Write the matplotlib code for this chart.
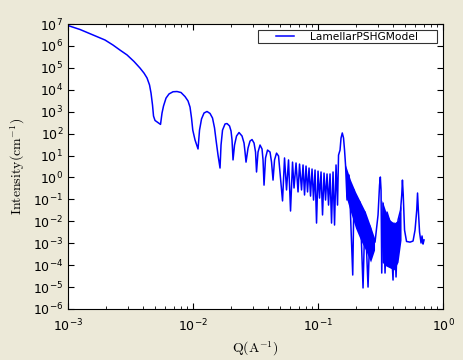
import numpy as np
import matplotlib
matplotlib.use("Agg")
import matplotlib.pyplot as plt
from matplotlib.ticker import LogLocator, NullLocator
from matplotlib.legend_handler import HandlerLine2D

# Kurva LamellarPSHGModel (nilai log10)
log_q = [
    -3.0, -2.904, -2.80, -2.704, -2.64, -2.584, -2.528, -2.472, -2.424, -2.392,
    -2.368, -2.348, -2.336, -2.324, -2.316, -2.304, -2.26,
    -2.248, -2.236, -2.216, -2.192, -2.16, -2.128, -2.096, -2.064, -2.04, -2.024,
    -2.012, -2.002, -1.984, -1.96,
    -1.948, -1.932, -1.912, -1.888, -1.864, -1.844, -1.828, -1.816, -1.80, -1.784,
    -1.776, -1.764, -1.744, -1.728, -1.708, -1.696, -1.688, -1.68,
    -1.668, -1.652, -1.632, -1.608, -1.592, -1.584, -1.576,
    -1.56, -1.544, -1.528, -1.512, -1.50, -1.492,
    -1.48, -1.464, -1.448, -1.44, -1.432,
    -1.42, -1.404, -1.384, -1.372, -1.36,
    -1.348, -1.332, -1.316,
    -1.284, -1.268, -1.252, -1.236, -1.22, -1.204, -1.192, -1.176, -1.16, -1.148,
    -1.132, -1.12, -1.108, -1.096, -1.084, -1.072, -1.06, -1.048, -1.036, -1.024,
    -1.012, -1.0, -0.988, -0.976, -0.964, -0.952, -0.94, -0.928, -0.916, -0.904,
    -0.892, -0.88, -0.868, -0.856, -0.844, -0.836,
    -0.824, -0.816, -0.806, -0.796, -0.788, -0.78,
    -0.768, -0.752, -0.7224, -0.712, -0.68, -0.664, -0.64, -0.624, -0.60, -0.584,
    -0.56, -0.544, -0.52, -0.508, -0.5016, -0.496, -0.4904,
    -0.48, -0.464, -0.448, -0.424, -0.40, -0.392, -0.376, -0.36, -0.34,
    -0.3304, -0.3248, -0.3184, -0.308, -0.292, -0.264, -0.24,
    -0.224, -0.2104, -0.204, -0.1976, -0.188, -0.176, -0.168, -0.16, -0.152,
]
log_i = [
    6.93, 6.75, 6.50, 6.27, 6.04, 5.81, 5.59, 5.29, 4.99, 4.76,
    4.54, 4.22, 3.85, 3.30, 2.80, 2.60, 2.42,
    2.94, 3.26, 3.62, 3.81, 3.91, 3.92, 3.875, 3.69, 3.49, 3.21,
    2.71, 2.16, 1.71, 1.30,
    2.16, 2.67, 2.94, 3.01, 2.92, 2.71, 2.26, 1.71, 1.02, 0.43,
    1.48, 2.16, 2.44, 2.46, 2.35, 2.12, 1.71, 0.80,
    1.48, 1.89, 2.05, 1.89, 1.57, 1.16, 0.70,
    1.34, 1.66, 1.73, 1.57, 1.16, 0.25,
    1.16, 1.48, 1.30, 0.80, -0.35,
    0.89, 1.25, 1.16, 0.70, -0.12,
    0.80, 1.11, 0.98,
    -1.07, 0.89, -0.57, 0.80, -1.53, 0.70, -0.48, 0.66, -0.66, 0.61,
    -0.57, 0.57, -0.80, 0.52, -0.66, 0.43, -0.85, 0.385, -1.03, 0.34,
    -2.08, 0.29, -0.94, 0.25, -1.71, 0.20, -1.03, 0.16, -1.26, 0.16,
    -2.08, 0.25, -2.17, 0.57, -1.26, 1.02,
    1.25, 1.80, 2.03, 1.80, 1.25, 0.57,
    -1.03, 0.11, -4.45, -0.57, -2.40, -1.12, -5.04, -1.58, -5.0, -2.22,
    -2.85, -2.95, -1.71, -0.35, 0.02, -0.57, -4.36,
    -1.17, -4.36, -1.58, -2.03, -4.68, -2.08, -4.54, -1.94, -1.49,
    -0.80, -0.12, -0.80, -2.40, -2.92, -2.95, -2.90,
    -2.40, -1.49, -0.71, -1.49, -2.49, -2.99, -2.67, -3.04, -2.85,
]

# Pita osilasi rapat (tampak padat), batas atas dan bawah
band1_log_q = [-0.78, -0.74, -0.70, -0.66, -0.62, -0.58, -0.548]
band1_hi = [0.57, -0.12, -0.66, -1.12, -1.58, -2.22, -2.76]
band1_lo = [-0.80, -1.58, -2.31, -2.85, -3.31, -3.86, -3.31]

band2_log_q = [-0.488, -0.456, -0.424, -0.392, -0.36, -0.336]
band2_hi = [-1.03, -1.58, -1.94, -2.08, -1.94, -1.26]
band2_lo = [-3.86, -4.04, -4.13, -4.22, -3.86, -2.85]

LINE_COLOR = "#0000ff"
BG_COLOR = "#ece9d8"

q = 10 ** np.array(log_q)
inten = 10 ** np.array(log_i)

fig = plt.figure(figsize=(4.63, 3.6), dpi=100, facecolor=BG_COLOR)
ax = fig.add_axes([0.1469, 0.1417, 0.81, 0.7916])
ax.set_facecolor("white")

for bq, blo, bhi in ((band1_log_q, band1_lo, band1_hi), (band2_log_q, band2_lo, band2_hi)):
    ax.fill_between(10 ** np.array(bq), 10 ** np.array(blo), 10 ** np.array(bhi),
                    color=LINE_COLOR, linewidth=0)

line, = ax.plot(q, inten, color=LINE_COLOR, linewidth=1.1, label="LamellarPSHGModel     ")

ax.set_xscale("log")
ax.set_yscale("log")
ax.set_xlim(1e-3, 1.0)
ax.set_ylim(1e-6, 1e7)

ax.yaxis.set_major_locator(LogLocator(base=10, numticks=20))
ax.yaxis.set_minor_locator(NullLocator())
ax.xaxis.set_minor_locator(LogLocator(base=10, subs=np.arange(2, 10), numticks=20))

ax.tick_params(which="both", direction="in", top=True, right=True, labelsize=9)
ax.tick_params(which="major", length=4)
ax.tick_params(which="minor", length=2)
ax.tick_params(axis="x", pad=6)

ax.set_xlabel(r"$\mathrm{Q(A^{-1})}$", fontsize=10, math_fontfamily="cm")
ax.set_ylabel(r"$\mathrm{Intensity(cm^{-1})}$", fontsize=10, math_fontfamily="cm")

leg = ax.legend(loc="upper right", fontsize=7.7, fancybox=False, borderaxespad=0.6,
                handlelength=3.25, borderpad=0.12, handletextpad=1.5,
                handler_map={line: HandlerLine2D(xpad=1.5)})
leg.get_frame().set_edgecolor("black")
leg.get_frame().set_linewidth(0.8)

fig.savefig("out.png", dpi=100, facecolor=BG_COLOR)
